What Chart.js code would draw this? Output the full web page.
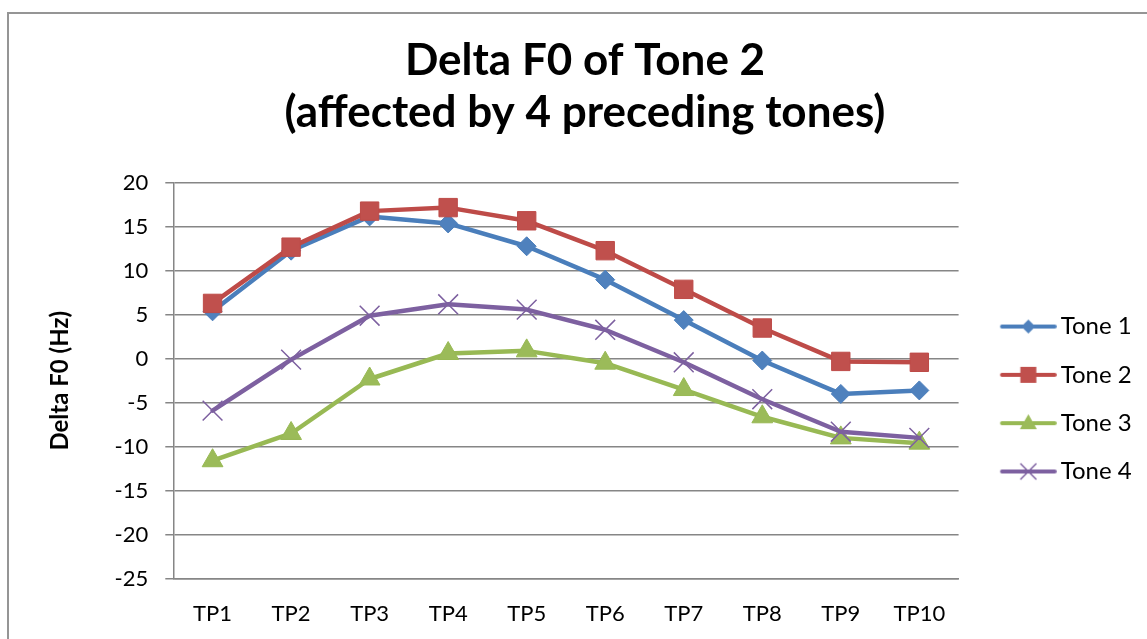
<!DOCTYPE html>
<html>
<head>
<script src="https://cdn.jsdelivr.net/npm/chart.js@4.4.1/dist/chart.umd.min.js"></script>
<style>
  html, body { margin: 0; overflow: hidden; background: #fff; }
  #frame { position: absolute; left: 7px; top: 12px; width: 1200px; height: 770px; border: 2px solid #959595; }
  canvas { display: block; }
</style>
</head>
<body>
<div id="frame"><canvas id="chart" width="1200" height="770"></canvas></div>
<script>
  const categories = ['TP1', 'TP2', 'TP3', 'TP4', 'TP5', 'TP6', 'TP7', 'TP8', 'TP9', 'TP10'];
  const seriesNames = ['Tone 1', 'Tone 2', 'Tone 3', 'Tone 4'];
  const tone1 = [5.4, 12.3, 16.2, 15.4, 12.8, 9.0, 4.4, -0.2, -4.0, -3.6];
  const tone2 = [6.3, 12.7, 16.8, 17.2, 15.7, 12.3, 7.9, 3.5, -0.3, -0.4];
  const tone3 = [-11.6, -8.5, -2.3, 0.6, 0.9, -0.5, -3.5, -6.6, -9.0, -9.6];
  const tone4 = [-5.9, -0.1, 4.9, 6.2, 5.6, 3.3, -0.4, -4.6, -8.3, -9.0];
  const yMin = -25, yMax = 20, yStep = 5;
  const titleLines = ['Delta F0 of Tone 2', '(affected by 4 preceding tones)'];
  const yTitle = 'Delta F0 (Hz)';

  const lineColors = ['#4A7EBB', '#BE4B48', '#98B954', '#7D60A0'];
  const fillColors = ['#4F81BD', '#C0504D', '#9BBB59', '#8064A2'];
  const shapes = ['rectRot', 'rect', 'triangle', 'crossRot'];
  const radii = [9.5, 13, 12, 14];

  // layout targets, in canvas pixels
  const canvas = document.getElementById('chart');
  const plotLeft = 164.3, plotRight = 949.6, plotTop = 169, plotBottom = 564.5;
  const titleCenter = 576;
  const legendFontSize = 24, legendSpacing = 48.3;
  const legendPad = legendSpacing - legendFontSize;
  const legendLineStart = 991, legendLineEnd = 1047.7, legendTextStart = 1051.7;

  const measure = document.createElement('canvas').getContext('2d');
  measure.font = legendFontSize + 'px Lato';
  const textW = Math.max(...seriesNames.map(n => measure.measureText(n).width));

  const boxLeft = plotRight + legendPad;
  const boxW = legendTextStart - legendFontSize / 2 - boxLeft;
  const boxCenter = boxLeft + boxW / 2;
  const iconHalf = Math.round(legendLineEnd - boxCenter);
  const iconW = iconHalf * 2;
  const iconLeft = boxCenter - iconHalf;
  const legendRight = plotRight + legendPad + boxW + legendFontSize / 2 + textW + 10;
  const padLeft = 2 * titleCenter - legendRight;
  const padRight = canvas.width - legendRight;

  function makeIcon(i) {
    const c = document.createElement('canvas');
    c.width = iconW;
    c.height = 30;
    const g = c.getContext('2d');
    const cy = 15;
    const x0 = legendLineStart - iconLeft;
    const x1 = legendLineEnd - iconLeft;
    const mx = (x0 + x1) / 2;
    g.strokeStyle = lineColors[i];
    g.lineWidth = 4;
    g.lineCap = 'round';
    g.beginPath();
    g.moveTo(x0 + 2, cy);
    g.lineTo(x1 - 2, cy);
    g.stroke();
    g.fillStyle = fillColors[i];
    g.beginPath();
    if (shapes[i] === 'rectRot') {
      g.moveTo(mx - 7, cy); g.lineTo(mx, cy - 7); g.lineTo(mx + 7, cy); g.lineTo(mx, cy + 7);
      g.closePath(); g.fill();
    } else if (shapes[i] === 'rect') {
      g.rect(mx - 8, cy - 8, 16, 16); g.fill();
    } else if (shapes[i] === 'triangle') {
      g.moveTo(mx, cy - 9); g.lineTo(mx + 8.5, cy + 6); g.lineTo(mx - 8.5, cy + 6);
      g.closePath(); g.fill();
    } else {
      g.lineWidth = 1.5;
      g.lineCap = 'butt';
      g.moveTo(mx - 8, cy - 8); g.lineTo(mx + 8, cy + 8);
      g.moveTo(mx + 8, cy - 8); g.lineTo(mx - 8, cy + 8);
      g.stroke();
    }
    return c;
  }

  const seriesValues = [tone1, tone2, tone3, tone4];
  const datasets = seriesValues.map((vals, i) => ({
    label: seriesNames[i],
    data: vals,
    borderColor: lineColors[i],
    backgroundColor: fillColors[i],
    borderWidth: 4.5,
    borderJoinStyle: 'round',
    borderCapStyle: 'round',
    tension: 0,
    pointStyle: shapes[i],
    pointRadius: radii[i],
    pointHoverRadius: radii[i],
    pointBackgroundColor: fillColors[i],
    pointBorderColor: lineColors[i],
    pointBorderWidth: shapes[i] === 'crossRot' ? 1.5 : 1,
    order: 3 - i
  }));

  const grey = '#868686';
  Chart.defaults.font.family = 'Lato';
  Chart.defaults.color = '#000';

  new Chart(canvas, {
    type: 'line',
    data: { labels: categories, datasets: datasets },
    options: {
      responsive: false,
      animation: false,
      events: [],
      layout: { padding: { left: padLeft, right: padRight, top: 0, bottom: 0 } },
      plugins: {
        tooltip: { enabled: false },
        title: {
          display: true,
          text: titleLines,
          color: '#000',
          font: { family: 'Lato', size: 44, weight: 'bold', lineHeight: 52 / 44 },
          padding: { top: 21, bottom: plotTop - 21 - 104 }
        },
        legend: {
          position: 'right',
          labels: {
            usePointStyle: true,
            pointStyleWidth: boxW,
            padding: legendPad,
            color: '#000',
            font: { family: 'Lato', size: legendFontSize },
            generateLabels: () => seriesNames.map((name, i) => ({
              text: name,
              pointStyle: makeIcon(i),
              fillStyle: fillColors[i],
              strokeStyle: lineColors[i],
              lineWidth: 0,
              hidden: false,
              datasetIndex: i
            }))
          }
        }
      },
      scales: {
        x: {
          offset: true,
          grid: { display: false, drawTicks: false },
          border: { display: true, color: grey, width: 1.5 },
          ticks: { padding: 22.3, maxRotation: 0, autoSkip: false, color: '#000', font: { size: 22 } },
          afterFit: (scale) => { scale.height = canvas.height - plotBottom; }
        },
        y: {
          min: yMin,
          max: yMax,
          ticks: { stepSize: yStep, padding: 17, color: '#000', font: { size: 22 } },
          grid: { color: grey, lineWidth: 1.5, tickLength: 8, drawTicks: true },
          border: { display: true, color: grey, width: 1.5 },
          title: {
            display: true,
            text: yTitle,
            color: '#000',
            font: { family: 'Lato', size: 24, weight: 'bold', lineHeight: 1.2 },
            padding: { top: 51 - padLeft - 14.4, bottom: 0 }
          },
          afterFit: (scale) => { scale.width = plotLeft - padLeft; }
        }
      }
    }
  });
</script>
</body>
</html>
